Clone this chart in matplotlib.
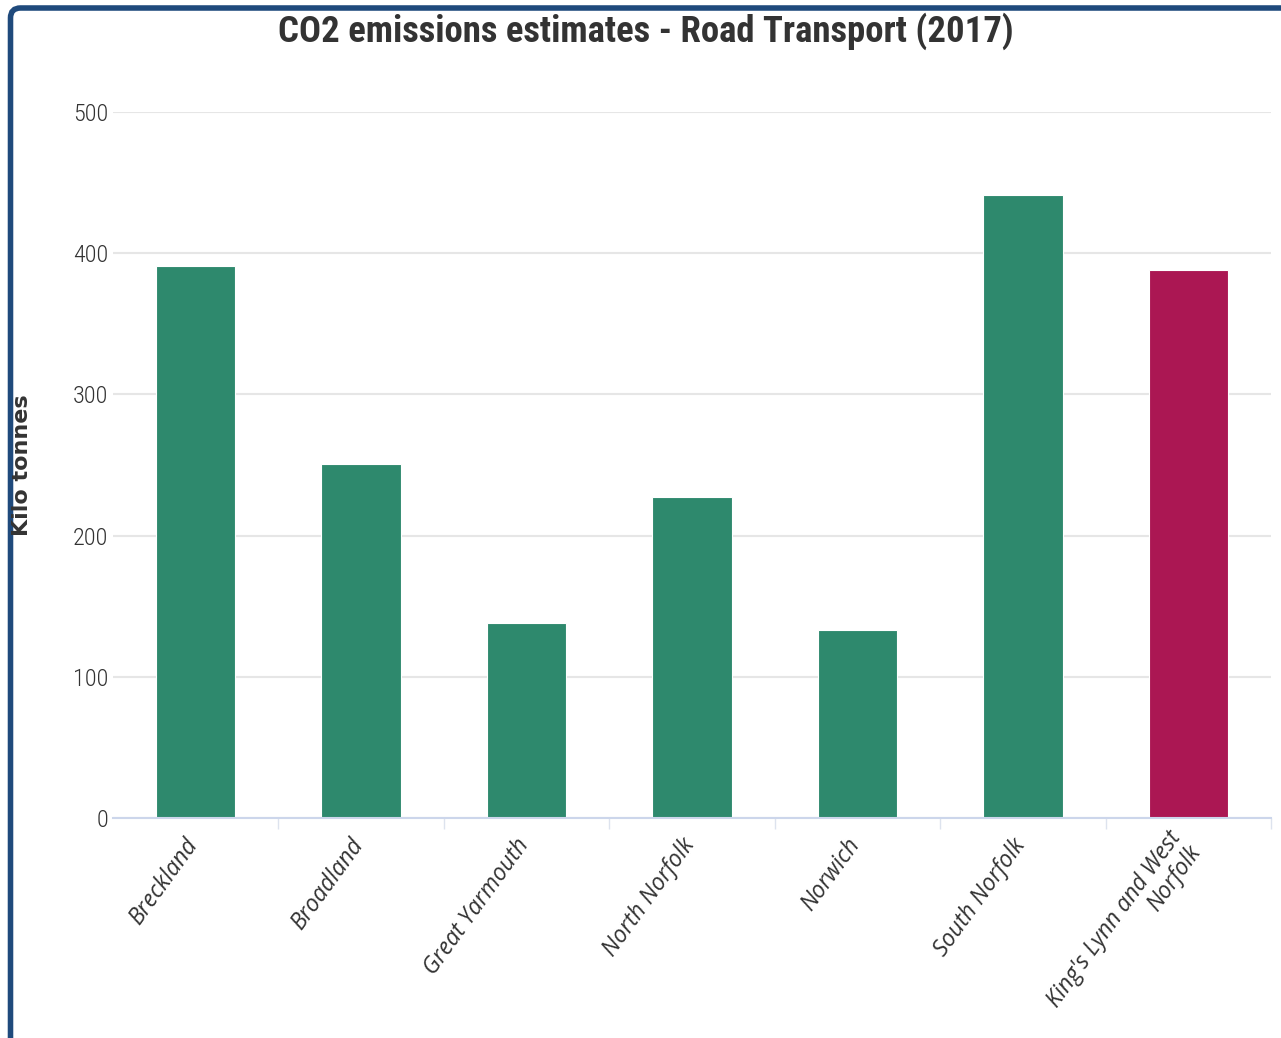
import matplotlib
matplotlib.use("Agg")
import matplotlib.pyplot as plt
import matplotlib.patches as mpatches
from matplotlib import font_manager
from matplotlib.transforms import IdentityTransform, offset_copy

# Dane
districts = [
    "Breckland",
    "Broadland",
    "Great Yarmouth",
    "North Norfolk",
    "Norwich",
    "South Norfolk",
    "King's Lynn and West\nNorfolk",
]
emissions = [391, 251, 138, 227, 133, 441, 388]
highlight = "King's Lynn and West\nNorfolk"
y_ticks = [0, 100, 200, 300, 400, 500]

GREEN = "#2E896D"
RED = "#AB1753"
TEXT = "#333333"
FRAME = "#1F4A7C"


def pick_font(*names, style=None):
    installed = font_manager.fontManager.ttflist
    for name in names:
        for f in installed:
            if f.name == name and (style is None or f.style in style):
                return name
    return "DejaVu Sans"


narrow = pick_font("Liberation Sans Narrow", "Roboto Condensed", "Open Sans Condensed", "Roboto")
italic = pick_font("Open Sans", "Noto Sans", "DejaVu Sans", style=("italic", "oblique"))

fig = plt.figure(figsize=(12.81, 10.38), dpi=100)
ax = fig.add_axes([113 / 1281, 1 - 818 / 1038, 1158 / 1281, 706 / 1038])

x = list(range(len(districts)))
colors = [RED if d == highlight else GREEN for d in districts]
ax.bar(x, emissions, width=0.48, color=colors, edgecolor="white", linewidth=0.8, zorder=2)

ax.set_xlim(-0.5, len(districts) - 0.5)
ax.set_ylim(0, 500)

# Siatka pozioma
ax.set_yticks(y_ticks)
ax.yaxis.grid(True, color="#E6E6E6", linewidth=1.5, zorder=0)
ax.set_axisbelow(True)
for s in ["top", "right", "left"]:
    ax.spines[s].set_visible(False)
ax.spines["bottom"].set_color("#CCD6EB")
ax.spines["bottom"].set_linewidth(1.5)
ax.spines["bottom"].set_zorder(3)

ax.tick_params(axis="y", length=0, pad=3.5)
for lbl in ax.get_yticklabels():
    lbl.set_fontfamily(narrow)
    lbl.set_fontsize(17.5)
    lbl.set_fontweight("light")
    lbl.set_color(TEXT)

# Znaczniki na granicach kategorii
ax.set_xticks([i - 0.5 for i in x[1:]] + [len(x) - 0.5])
ax.set_xticklabels([])
ax.tick_params(axis="x", length=8, width=1.0, color="#DDE3EE")

# Etykiety kategorii obrócone
for i, name in zip(x, districts):
    tr = offset_copy(ax.get_xaxis_transform(), fig=fig, x=-2, y=-23, units="dots")
    ax.text(
        i,
        0,
        name,
        transform=tr,
        rotation=54,
        rotation_mode="anchor",
        ha="right",
        va="center",
        fontsize=16.5,
        fontstyle="italic",
        fontfamily=italic,
        color=TEXT,
        linespacing=1.0,
    )

# Opis osi Y
fig.text(
    22 / 1281,
    ax.get_position().y0 + ax.get_position().height / 2,
    "Kilo tonnes",
    rotation=90,
    ha="center",
    va="center",
    fontsize=16,
    fontweight="bold",
    fontfamily="DejaVu Sans",
    color=TEXT,
)

fig.text(
    646 / 1281,
    1 - 42 / 1038,
    "CO2 emissions estimates - Road Transport (2017)",
    ha="center",
    va="baseline",
    fontsize=26.5,
    fontweight="bold",
    fontfamily=narrow,
    color=TEXT,
)

# Ramka
frame = mpatches.FancyBboxPatch(
    (10.5, -40),
    1400,
    1038 - 8 + 40,
    boxstyle="round,pad=0,rounding_size=10",
    transform=IdentityTransform(),
    facecolor="none",
    edgecolor=FRAME,
    linewidth=4,
)
fig.patches.append(frame)

fig.savefig("out.png", dpi=100, facecolor="white")
